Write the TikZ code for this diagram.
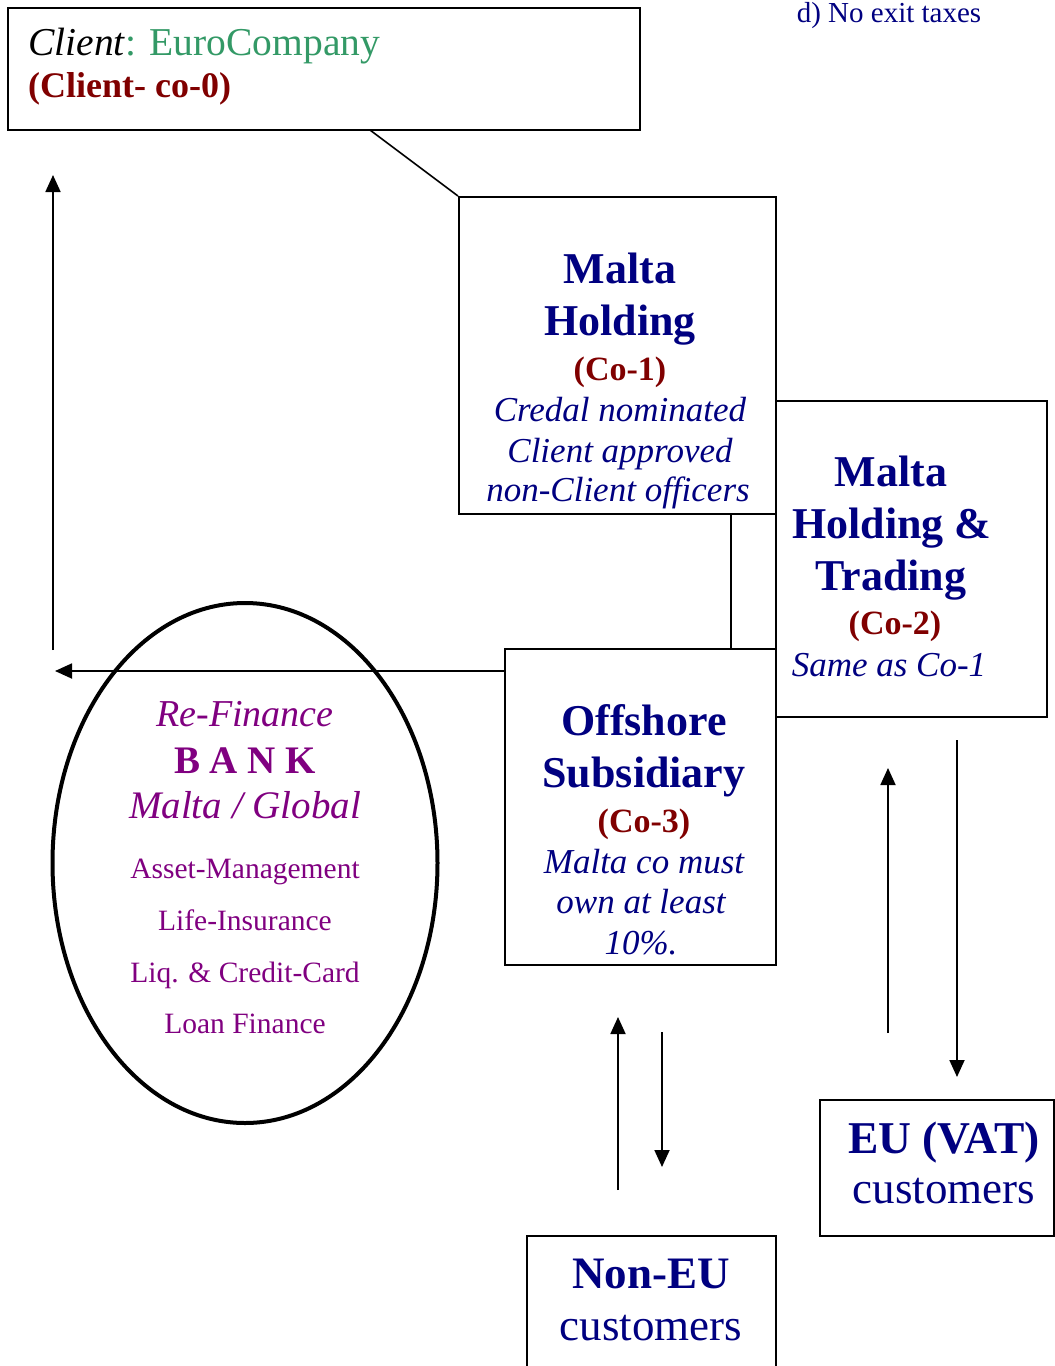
\documentclass[tikz,border=0pt]{standalone}
\usepackage{fontspec}
\setmainfont{Liberation Serif}
\usetikzlibrary{arrows.meta,shapes.geometric}

\definecolor{navy}{RGB}{0,0,128}
\definecolor{maroon}{RGB}{128,0,0}
\definecolor{seagreen}{RGB}{51,153,102}
\definecolor{plum}{RGB}{128,0,128}

\begin{document}
\begin{tikzpicture}
	[x=1pt, y=-1pt,
	box/.style={draw, line width=2pt, inner sep=0pt},
	flow/.style={-{Triangle[length=17pt,width=15pt]}, line width=1.8pt},
	link/.style={line width=1.6pt},
	txt/.style={anchor=base, inner sep=0pt},
	title/.style={txt, text=navy, font=\fontsize{44}{50}\selectfont\bfseries},
	code/.style={txt, text=maroon, font=\fontsize{34}{40}\selectfont\bfseries},
	note/.style={txt, text=navy, font=\fontsize{35}{40}\selectfont\itshape},
	cust/.style={txt, text=navy, font=\fontsize{45}{50}\selectfont},
	bank/.style={txt, text=plum, font=\fontsize{29.5}{35}\selectfont}]

	\useasboundingbox (0,0) rectangle (1055,1366);

	% Draw boxes
	\node[box, minimum width=632pt, minimum height=122pt] (client) at (324,69) {};
	\node[box, minimum width=317pt, minimum height=317pt] (co1) at (617.5,355.5) {};
	\node[box, minimum width=271pt, minimum height=316pt] (co2) at (911.5,559) {};
	\node[box, minimum width=271pt, minimum height=316pt] (co3) at (640.5,807) {};
	\node[box, minimum width=234pt, minimum height=136pt] (eu) at (937,1168) {};
	\node[box, minimum width=249pt, minimum height=140pt] (noneu) at (651.5,1306) {};
	\node[draw, ellipse, line width=4pt, minimum width=385pt, minimum height=520pt, inner sep=0pt] (bank) at (245,863) {};

	% Client
	\node[txt, anchor=base west, font=\fontsize{39.5}{44}\selectfont] (clientname) at (28,55)
		{\textit{Client}\textcolor{seagreen}{: EuroCompany}};
	\node[code, anchor=base west, font=\fontsize{36}{40}\selectfont\bfseries] (clientco) at (28,97) {(Client- co-0)};
	\node[txt, text=navy, font=\fontsize{29}{34}\selectfont] (exit) at (889,22) {d) No exit taxes};

	% Co-1
	\node[title] (co1a) at (620,283) {Malta};
	\node[title] (co1b) at (620,335) {Holding};
	\node[code] (co1c) at (620,380) {(Co-1)};
	\node[note] (co1d) at (620,421) {Credal nominated};
	\node[note] (co1e) at (620,462) {Client approved};
	\node[note] (co1f) at (618,501) {non-Client officers};

	% Co-2
	\node[title] (co2a) at (891,486) {Malta};
	\node[title] (co2b) at (892,538) {Holding \&};
	\node[title] (co2c) at (891,590) {Trading};
	\node[code] (co2d) at (895,634) {(Co-2)};
	\node[note] (co2e) at (889,676) {Same as Co-1};

	% Co-3
	\node[title] (co3a) at (644,735) {Offshore};
	\node[title] (co3b) at (644,787) {Subsidiary};
	\node[code] (co3c) at (644,832) {(Co-3)};
	\node[note] (co3d) at (644,873) {Malta co must};
	\node[note] (co3e) at (641,913) {own at least};
	\node[note] (co3f) at (641,954) {10\%.};

	% Bank
	\node[txt, text=plum, font=\fontsize{38}{44}\selectfont\itshape] (banka) at (245,726) {Re-Finance};
	\node[txt, text=plum, font=\fontsize{39}{44}\selectfont\bfseries] (bankb) at (245,773) {B A N K};
	\node[txt, text=plum, font=\fontsize{39}{44}\selectfont\itshape] (bankc) at (245,818) {Malta / Global};
	\node[bank] (bankd) at (245,878) {Asset-Management};
	\node[bank] (banke) at (245,930) {Life-Insurance};
	\node[bank] (bankf) at (245,982) {Liq. \& Credit-Card};
	\node[bank] (bankg) at (245,1033) {Loan Finance};

	% Customers
	\node[cust, font=\fontsize{45.5}{50}\selectfont\bfseries] (eua) at (944,1153) {EU (VAT)};
	\node[cust] (eub) at (944,1203) {customers};
	\node[cust, font=\fontsize{45}{50}\selectfont\bfseries] (noneua) at (651,1288) {Non-EU};
	\node[cust] (noneub) at (651,1340) {customers};

	% Draw links
	\coordinate (clientfoot) at (370,130);
	\coordinate (stem) at (731,0);
	\draw[link] (clientfoot) -- (co1.north west);
	\draw[link] (co1.south -| stem) -- (co3.north -| stem);

	% Draw flows
	\coordinate (bankout) at (55,671);
	\coordinate (clientup) at (53,650);
	\coordinate (clientin) at (53,175);
	\draw[flow] (co3.west |- bankout) -- (bankout);
	\draw[flow] (clientup) -- (clientin);

	\coordinate (nonup1) at (618,1190);
	\coordinate (nonup2) at (618,1017);
	\coordinate (nondn1) at (662,1032);
	\coordinate (nondn2) at (662,1167);
	\draw[flow] (nonup1) -- (nonup2);
	\draw[flow] (nondn1) -- (nondn2);

	\coordinate (euup1) at (888,1033);
	\coordinate (euup2) at (888,768);
	\coordinate (eudn1) at (957,740);
	\coordinate (eudn2) at (957,1077);
	\draw[flow] (euup1) -- (euup2);
	\draw[flow] (eudn1) -- (eudn2);

\end{tikzpicture}
\end{document}
